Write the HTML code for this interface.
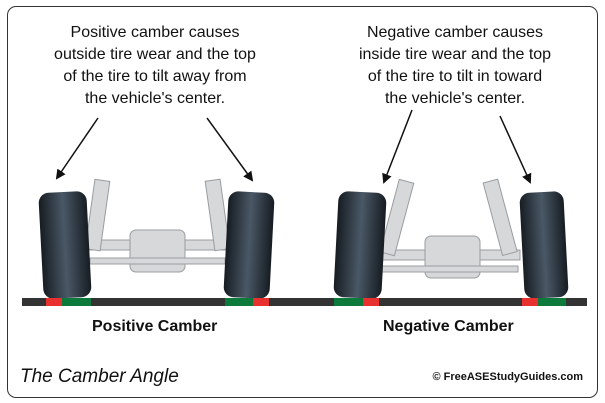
<!DOCTYPE html>
<html><head><style>
html,body{margin:0;padding:0;background:#fff;}
body{width:605px;height:403px;position:relative;overflow:hidden;font-family:"Liberation Sans",sans-serif;}
.frame{position:absolute;left:7px;top:6px;width:589px;height:390px;border:1.5px solid #333;border-radius:9px;}
.t{position:absolute;text-align:center;font-size:16px;line-height:22px;color:#111;width:260px;}
.lbl{position:absolute;font-weight:bold;font-size:16px;color:#111;}
</style></head><body>
<div class="frame"></div>
<div class="t" style="left:25px;top:22px;">Positive camber causes<br>outside tire wear and the top<br>of the tire to tilt away from<br>the vehicle's center.</div>
<div class="t" style="left:325px;top:22px;">Negative camber causes<br>inside tire wear and the top<br>of the tire to tilt in toward<br>the vehicle's center.</div>
<svg width="605" height="403" style="position:absolute;left:0;top:0">
<defs><marker id="a" markerWidth="10" markerHeight="10" refX="8" refY="5" orient="auto" markerUnits="userSpaceOnUse"><path d="M0,0 L10,5 L0,10 z" fill="#111"/></marker>
<linearGradient id="tg" x1="0" x2="1"><stop offset="0" stop-color="#161c22"/><stop offset="0.5" stop-color="#4a5866"/><stop offset="1" stop-color="#161c22"/></linearGradient></defs>
<g stroke="#111" stroke-width="1.5" marker-end="url(#a)">
<line x1="98" y1="118" x2="57" y2="178"/>
<line x1="207" y1="118" x2="252" y2="180"/>
<line x1="412" y1="110" x2="384" y2="182"/>
<line x1="500" y1="116" x2="530" y2="182"/>
</g>
<g fill="#d6d8da" stroke="#9a9da0" stroke-width="1">
<rect x="88" y="240" width="140" height="10"/>
<rect x="130" y="230" width="55" height="42" rx="6"/>
<rect x="90" y="258" width="135" height="6"/>
<rect x="90" y="180" width="15" height="70" transform="rotate(8 97 215)"/>
<rect x="210" y="180" width="15" height="70" transform="rotate(-8 217 215)"/>
<rect x="380" y="250" width="140" height="10"/>
<rect x="425" y="236" width="55" height="42" rx="6"/>
<rect x="382" y="266" width="136" height="6"/>
<rect x="390" y="180" width="15" height="75" transform="rotate(15 397 215)"/>
<rect x="492" y="180" width="15" height="75" transform="rotate(-15 499 215)"/>
</g>
<g fill="url(#tg)">
<rect x="41" y="192" width="48" height="106" rx="10" transform="rotate(-3 65 245)"/>
<rect x="226" y="192" width="46" height="106" rx="10" transform="rotate(3 249 245)"/>
<rect x="336" y="192" width="48" height="106" rx="10" transform="rotate(3 360 245)"/>
<rect x="522" y="192" width="44" height="106" rx="10" transform="rotate(-3 544 245)"/>
</g>
<rect x="22" y="298" width="565" height="8" fill="#333"/>
<rect x="46" y="298" width="16" height="8" fill="#e8302e"/><rect x="62" y="298" width="29" height="8" fill="#0b7a3a"/>
<rect x="225" y="298" width="28" height="8" fill="#0b7a3a"/><rect x="253" y="298" width="16" height="8" fill="#e8302e"/>
<rect x="334" y="298" width="29" height="8" fill="#0b7a3a"/><rect x="363" y="298" width="16" height="8" fill="#e8302e"/>
<rect x="522" y="298" width="16" height="8" fill="#e8302e"/><rect x="538" y="298" width="28" height="8" fill="#0b7a3a"/>
</svg>
<div class="lbl" style="left:92px;top:318px;">Positive Camber</div>
<div class="lbl" style="left:383px;top:318px;">Negative Camber</div>
<div style="position:absolute;left:20px;top:366px;font-style:italic;font-size:19px;color:#111;">The Camber Angle</div>
<div style="position:absolute;right:22px;top:371px;font-weight:bold;font-size:11px;color:#111;">© FreeASEStudyGuides.com</div>
</body></html>
